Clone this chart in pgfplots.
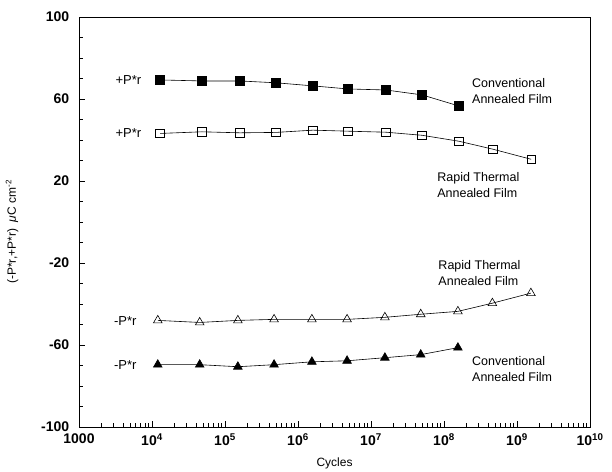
\documentclass[border=0pt]{standalone}
\usepackage{pgfplots}
\pgfplotsset{compat=1.18}
\usepackage{fontspec}
\setmainfont{Liberation Sans}
\begin{document}
\begin{tikzpicture}
\begin{axis}[
  scale only axis, width=511pt, height=410pt,
  xmode=log, xmin=1e3, xmax=1e10, ymin=-100, ymax=100,
  xtick={1e3,1e4,1e5,1e6,1e7,1e8,1e9,1e10},
  xticklabels={1000,10\textsuperscript{4},10\textsuperscript{5},10\textsuperscript{6},10\textsuperscript{7},10\textsuperscript{8},10\textsuperscript{9},10\textsuperscript{10}},
  minor xtick={2e3,3e3,4e3,5e3,6e3,7e3,8e3,9e3,
    2e4,3e4,4e4,5e4,6e4,7e4,8e4,9e4,
    2e5,3e5,4e5,5e5,6e5,7e5,8e5,9e5,
    2e6,3e6,4e6,5e6,6e6,7e6,8e6,9e6,
    2e7,3e7,4e7,5e7,6e7,7e7,8e7,9e7,
    2e8,3e8,4e8,5e8,6e8,7e8,8e8,9e8,
    2e9,3e9,4e9,5e9,6e9,7e9,8e9,9e9},
  ytick={-100,-60,-20,20,60,100},
  yticklabels={-100,-60,-20,20,60,100},
  minor ytick={-90,-80,-70,-50,-40,-30,-10,0,10,30,40,50,70,80,90},
  tick align=inside, xtick pos=left, ytick pos=left,
  tickwidth=6pt, subtickwidth=4pt,
  every tick/.style={black, line width=0.8pt},
  thick,
  ticklabel style={font=\fontsize{14}{16}\selectfont\bfseries},
  yticklabel style={xshift=-6pt},
  xticklabel style={yshift=-3pt},
  xlabel={Cycles},
  xlabel style={at={(axis description cs:0.5,0)}, anchor=center, yshift=-36pt, font=\fontsize{12}{14}\selectfont},
  ylabel={(-P*r,+P*r)\ \ \textit{μ}C cm\textsuperscript{-2}},
  ylabel style={at={(axis description cs:-0.131,0.476)}, anchor=center, font=\fontsize{12}{14}\selectfont},
]
\addplot[black, line width=0.6pt, mark=square*, mark size=4.3pt, mark options={solid, fill=black}] coordinates {
 (1.29e4,69.3) (4.84e4,68.8) (1.6e5,68.8) (5.0e5,67.9) (1.6e6,66.4) (4.84e6,64.9) (1.6e7,64.4) (5.0e7,62.0) (1.6e8,56.6)};
\addplot[black, line width=0.6pt, mark=square, mark size=4.3pt, mark options={solid, fill=white}] coordinates {
 (1.29e4,43.2) (4.84e4,44.0) (1.6e5,43.5) (5.0e5,43.7) (1.6e6,44.8) (4.84e6,44.3) (1.6e7,43.8) (5.0e7,42.3) (1.6e8,39.4) (4.69e8,35.5) (1.56e9,30.6)};
\addplot[black, line width=0.6pt, mark=triangle, mark size=5pt, mark options={solid, fill=white}] coordinates {
 (1.2e4,-48.0) (4.5e4,-49.0) (1.5e5,-48.0) (4.7e5,-47.5) (1.55e6,-47.5) (4.7e6,-47.5) (1.55e7,-46.5) (4.8e7,-45.0) (1.55e8,-43.6) (4.6e8,-39.6) (1.55e9,-34.7)};
\addplot[black, line width=0.6pt, mark=triangle*, mark size=5pt, mark options={solid, fill=black}] coordinates {
 (1.2e4,-69.6) (4.5e4,-69.6) (1.5e5,-70.6) (4.7e5,-69.6) (1.55e6,-68.2) (4.7e6,-67.7) (1.55e7,-66.2) (4.8e7,-64.7) (1.55e8,-61.3)};
\node[anchor=east, font=\fontsize{13}{15}\selectfont] at (axis cs:8000,69.3) {+P*r};
\node[anchor=east, font=\fontsize{13}{15}\selectfont] at (axis cs:8000,43.3) {+P*r};
\node[anchor=east, font=\fontsize{13}{15}\selectfont] at (axis cs:6900,-48.5) {-P*r};
\node[anchor=east, font=\fontsize{13}{15}\selectfont] at (axis cs:6900,-70) {-P*r};
\node[anchor=west, align=left, font=\fontsize{12.5}{16}\selectfont, inner sep=0pt] at (axis cs:2.4e8,63.9) {Conventional\\Annealed Film};
\node[anchor=west, align=left, font=\fontsize{12.5}{16}\selectfont, inner sep=0pt] at (axis cs:8e7,17.8) {Rapid Thermal\\Annealed Film};
\node[anchor=west, align=left, font=\fontsize{12.5}{16}\selectfont, inner sep=0pt] at (axis cs:8.3e7,-24.9) {Rapid Thermal\\Annealed Film};
\node[anchor=west, align=left, font=\fontsize{12.5}{16}\selectfont, inner sep=0pt] at (axis cs:2.4e8,-71.5) {Conventional\\Annealed Film};
\end{axis}
\path ([shift={(-79pt,-42pt)}]current axis.south west) rectangle ([shift={(22pt,17pt)}]current axis.north east);
\end{tikzpicture}
\end{document}
